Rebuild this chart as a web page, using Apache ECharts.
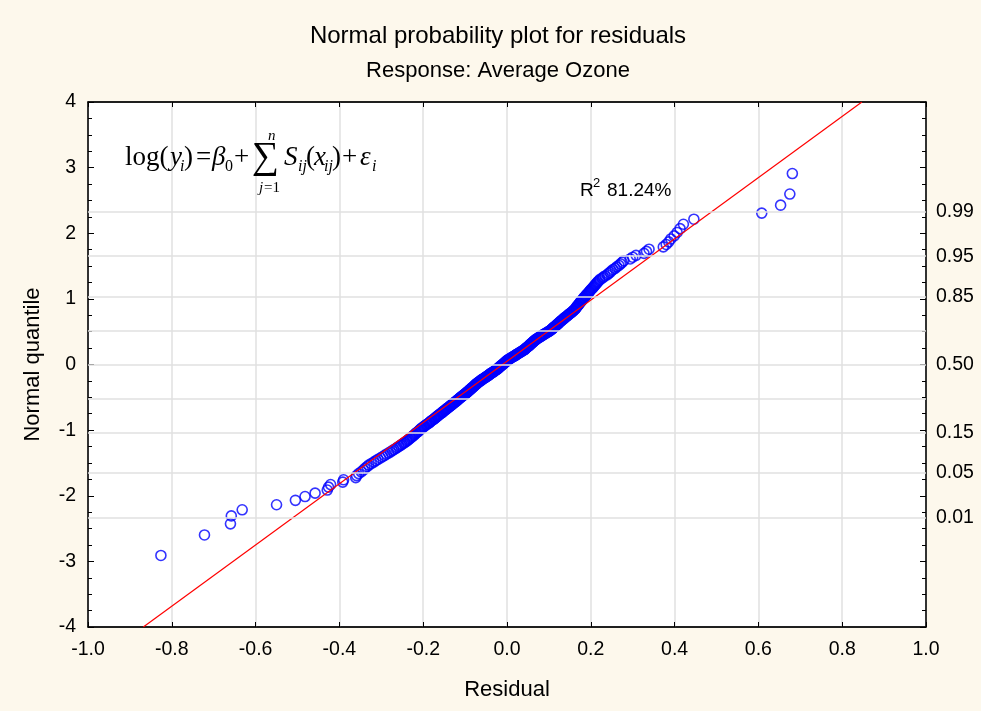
<!DOCTYPE html>
<html>
<head>
<meta charset="utf-8">
<script src="https://cdn.jsdelivr.net/npm/echarts@6/dist/echarts.min.js"></script>
<style>
  html, body { margin: 0; padding: 0; background: #fdf8ec; }
  #chart { width: 981px; height: 711px; }
</style>
</head>
<body>
<div id="chart"></div>
<script>
// Sorted model residuals (x) and their normal scores (y)
const residuals = [
  -0.826,-0.722,-0.660,-0.658,-0.632,-0.550,-0.505,-0.482,-0.458,-0.429,
  -0.426,-0.421,-0.392,-0.390,-0.361,-0.359,-0.354,-0.348,-0.343,-0.339,
  -0.334,-0.330,-0.324,-0.318,-0.313,-0.308,-0.302,-0.297,-0.292,-0.288,
  -0.283,-0.278,-0.274,-0.270,-0.265,-0.262,-0.258,-0.254,-0.251,-0.247,
  -0.244,-0.240,-0.238,-0.235,-0.232,-0.230,-0.227,-0.225,-0.222,-0.220,
  -0.218,-0.216,-0.213,-0.211,-0.209,-0.207,-0.205,-0.203,-0.200,-0.198,
  -0.196,-0.193,-0.191,-0.188,-0.186,-0.184,-0.182,-0.180,-0.178,-0.175,
  -0.173,-0.171,-0.170,-0.167,-0.166,-0.164,-0.162,-0.160,-0.158,-0.156,
  -0.154,-0.153,-0.151,-0.149,-0.147,-0.145,-0.144,-0.142,-0.140,-0.138,
  -0.136,-0.135,-0.133,-0.131,-0.130,-0.128,-0.127,-0.125,-0.123,-0.121,
  -0.120,-0.118,-0.117,-0.115,-0.114,-0.112,-0.111,-0.109,-0.108,-0.105,
  -0.104,-0.102,-0.101,-0.099,-0.098,-0.096,-0.095,-0.094,-0.092,-0.090,
  -0.089,-0.088,-0.086,-0.085,-0.084,-0.082,-0.081,-0.080,-0.078,-0.077,
  -0.076,-0.074,-0.073,-0.072,-0.070,-0.069,-0.068,-0.066,-0.064,-0.062,
  -0.061,-0.059,-0.057,-0.056,-0.054,-0.052,-0.051,-0.049,-0.047,-0.045,
  -0.044,-0.042,-0.041,-0.039,-0.037,-0.036,-0.034,-0.032,-0.031,-0.029,
  -0.027,-0.025,-0.024,-0.023,-0.021,-0.020,-0.019,-0.017,-0.016,-0.015,
  -0.013,-0.012,-0.011,-0.009,-0.008,-0.007,-0.005,-0.004,-0.003,-0.001,
   0.000, 0.001, 0.003, 0.005, 0.006, 0.008, 0.011, 0.012, 0.014, 0.016,
   0.018, 0.020, 0.022, 0.023, 0.025, 0.027, 0.029, 0.031, 0.033, 0.035,
   0.036, 0.038, 0.040, 0.042, 0.043, 0.044, 0.046, 0.047, 0.049, 0.050,
   0.051, 0.053, 0.054, 0.055, 0.056, 0.058, 0.059, 0.061, 0.062, 0.063,
   0.064, 0.066, 0.067, 0.069, 0.070, 0.072, 0.075, 0.077, 0.078, 0.081,
   0.082, 0.084, 0.086, 0.088, 0.090, 0.092, 0.095, 0.097, 0.099, 0.101,
   0.103, 0.105, 0.106, 0.108, 0.109, 0.110, 0.112, 0.114, 0.115, 0.117,
   0.118, 0.120, 0.121, 0.123, 0.124, 0.126, 0.127, 0.129, 0.131, 0.132,
   0.134, 0.136, 0.137, 0.139, 0.141, 0.143, 0.145, 0.146, 0.148, 0.150,
   0.152, 0.154, 0.156, 0.158, 0.159, 0.161, 0.163, 0.164, 0.165, 0.166,
   0.168, 0.169, 0.170, 0.172, 0.173, 0.174, 0.176, 0.177, 0.179, 0.180,
   0.182, 0.183, 0.185, 0.187, 0.188, 0.190, 0.192, 0.194, 0.196, 0.197,
   0.199, 0.201, 0.203, 0.205, 0.207, 0.209, 0.211, 0.213, 0.215, 0.217,
   0.220, 0.222, 0.227, 0.230, 0.234, 0.239, 0.242, 0.246, 0.249, 0.253,
   0.258, 0.262, 0.267, 0.271, 0.275, 0.279, 0.294, 0.300, 0.308, 0.327,
   0.333, 0.339, 0.373, 0.380, 0.386, 0.391, 0.399, 0.406, 0.413, 0.421,
   0.446, 0.608, 0.653, 0.675, 0.681
];

const normalQuantiles = [
  -2.910,-2.597,-2.428,-2.307,-2.214,-2.137,-2.070,-2.012,-1.960,-1.913,
  -1.869,-1.829,-1.792,-1.757,-1.724,-1.693,-1.663,-1.635,-1.608,-1.582,
  -1.557,-1.533,-1.510,-1.488,-1.466,-1.445,-1.425,-1.405,-1.386,-1.367,
  -1.349,-1.331,-1.314,-1.297,-1.280,-1.264,-1.248,-1.232,-1.217,-1.202,
  -1.187,-1.172,-1.158,-1.144,-1.130,-1.116,-1.103,-1.090,-1.077,-1.064,
  -1.051,-1.039,-1.026,-1.014,-1.002,-0.990,-0.978,-0.967,-0.955,-0.944,
  -0.933,-0.921,-0.910,-0.899,-0.888,-0.878,-0.867,-0.856,-0.846,-0.835,
  -0.825,-0.815,-0.805,-0.795,-0.785,-0.775,-0.766,-0.756,-0.747,-0.737,
  -0.728,-0.719,-0.709,-0.700,-0.691,-0.682,-0.673,-0.664,-0.655,-0.645,
  -0.636,-0.628,-0.619,-0.610,-0.602,-0.593,-0.585,-0.576,-0.568,-0.558,
  -0.550,-0.542,-0.534,-0.526,-0.518,-0.510,-0.502,-0.494,-0.486,-0.475,
  -0.467,-0.459,-0.452,-0.444,-0.436,-0.428,-0.420,-0.413,-0.405,-0.395,
  -0.387,-0.380,-0.372,-0.365,-0.357,-0.350,-0.342,-0.335,-0.327,-0.318,
  -0.311,-0.303,-0.296,-0.289,-0.281,-0.274,-0.267,-0.259,-0.252,-0.242,
  -0.235,-0.228,-0.220,-0.213,-0.206,-0.199,-0.192,-0.184,-0.177,-0.168,
  -0.161,-0.154,-0.147,-0.139,-0.132,-0.125,-0.118,-0.111,-0.104,-0.095,
  -0.087,-0.080,-0.073,-0.066,-0.058,-0.051,-0.044,-0.036,-0.029,-0.022,
  -0.015,-0.007, 0.000,
   0.007, 0.015, 0.022, 0.029, 0.036, 0.044, 0.051, 0.058, 0.066, 0.073,
   0.080, 0.087, 0.095, 0.104, 0.111, 0.118, 0.125, 0.132, 0.139, 0.147,
   0.154, 0.161, 0.168, 0.177, 0.184, 0.192, 0.199, 0.206, 0.213, 0.220,
   0.228, 0.235, 0.242, 0.252, 0.259, 0.267, 0.274, 0.281, 0.289, 0.296,
   0.303, 0.311, 0.318, 0.327, 0.335, 0.342, 0.350, 0.357, 0.365, 0.372,
   0.380, 0.387, 0.395, 0.405, 0.413, 0.420, 0.428, 0.436, 0.444, 0.452,
   0.459, 0.467, 0.475, 0.486, 0.494, 0.502, 0.510, 0.518, 0.526, 0.534,
   0.542, 0.550, 0.558, 0.568, 0.576, 0.585, 0.593, 0.602, 0.610, 0.619,
   0.628, 0.636, 0.645, 0.655, 0.664, 0.673, 0.682, 0.691, 0.700, 0.709,
   0.719, 0.728, 0.737, 0.747, 0.756, 0.766, 0.775, 0.785, 0.795, 0.805,
   0.815, 0.825, 0.835, 0.846, 0.856, 0.867, 0.878, 0.888, 0.899, 0.910,
   0.921, 0.933, 0.944, 0.955, 0.967, 0.978, 0.990, 1.002, 1.014, 1.026,
   1.039, 1.051, 1.064, 1.077, 1.090, 1.103, 1.116, 1.130, 1.144, 1.158,
   1.172, 1.187, 1.202, 1.217, 1.232, 1.248, 1.264, 1.280, 1.297, 1.314,
   1.331, 1.349, 1.367, 1.386, 1.405, 1.425, 1.445, 1.466, 1.488, 1.510,
   1.533, 1.557, 1.582, 1.608, 1.635, 1.663, 1.693, 1.724, 1.757, 1.792,
   1.829, 1.869, 1.913, 1.960, 2.012, 2.070, 2.137, 2.214, 2.307, 2.428,
   2.597, 2.910
];

// Reference line (normal fit) end points
const refLineX = [-0.868, 0.847];
const refLineY = [-4, 4];

// Probability scale on the right axis: label text and normal quantile position
const probLabels    = ['0.01', '0.05', '0.15', '0.30', '0.50', '0.70', '0.85', '0.95', '0.99'];
const probQuantiles = [-2.326, -1.645, -1.036, -0.524, 0, 0.524, 1.036, 1.645, 2.326];
const probLabelShown = [true, true, true, false, true, false, true, true, true];

const titleText = 'Normal probability plot for residuals';
const subtitleText = 'Response: Average Ozone';
const rSquaredValue = '81.24%';

const SANS = '"Liberation Sans", Arial, sans-serif';
const SERIF = '"Liberation Serif", "Times New Roman", serif';

const points = residuals.map((r, i) => [r, normalQuantiles[i]]);
const refLine = refLineX.map((x, i) => [x, refLineY[i]]);

function txt(x, y, text, font, align) {
  return {
    type: 'text', x: x, y: y, silent: true, z: 10,
    style: {
      text: text, font: font, fill: '#000',
      textAlign: align || 'left', align: align || 'left',
      textVerticalAlign: 'middle', verticalAlign: 'middle'
    }
  };
}

// Model equation pieces: [text, x, y, style, size]
const eqPieces = [
  ['log(', 125, 158, 'normal', 27],
  ['y',    170, 158, 'italic', 27],
  ['i',    180, 167, 'italic', 16],
  [')',    184, 158, 'normal', 27],
  ['=',    196, 158, 'normal', 27],
  ['\u03B2', 212, 158, 'italic', 27],
  ['0',    225, 167, 'normal', 16],
  ['+',    234, 158, 'normal', 27],
  ['\u2211', 252, 158, 'normal', 38],
  ['n',    268, 136, 'italic', 15],
  ['j',    259, 188, 'italic', 15],
  ['=1',   264, 188, 'normal', 15],
  ['S',    284, 158, 'italic', 27],
  ['ij',   298, 167, 'italic', 16],
  ['(',    306, 158, 'normal', 27],
  ['x',    314, 158, 'italic', 27],
  ['ij',   324, 167, 'italic', 16],
  [')',    332, 158, 'normal', 27],
  ['+',    342, 158, 'normal', 27],
  ['\u03B5', 360, 158, 'italic', 27],
  ['i',    372, 167, 'italic', 16]
];

const graphics = [
  txt(498, 36, titleText, '24px ' + SANS, 'center'),
  txt(498, 71, subtitleText, '22px ' + SANS, 'center'),
  txt(580, 191, 'R', '19px ' + SANS),
  txt(593, 183, '2', '13px ' + SANS),
  txt(607, 191, rSquaredValue, '19px ' + SANS)
].concat(eqPieces.map(p => txt(p[1], p[2], p[0], p[3] + ' ' + p[4] + 'px ' + SERIF)));

const axisLineStyle = { show: true, onZero: false, lineStyle: { color: '#000', width: 1.5 } };

const chart = echarts.init(document.getElementById('chart'), null, { renderer: 'canvas' });
chart.setOption({
  animation: false,
  backgroundColor: '#fdf8ec',
  grid: {
    left: 88, right: 55, top: 102, bottom: 84,
    show: true, backgroundColor: '#ffffff', borderColor: '#000', borderWidth: 1,
    containLabel: false, outerBoundsMode: 'none'
  },
  xAxis: [
    {
      type: 'value', min: -1, max: 1, interval: 0.2, position: 'bottom',
      axisLine: axisLineStyle,
      axisTick: { show: true, inside: true, length: 5, lineStyle: { color: '#000', width: 1 } },
      axisLabel: {
        color: '#000', fontSize: 19.5, fontFamily: SANS, margin: 13,
        formatter: v => (Math.abs(v) < 1e-9 ? 0 : v).toFixed(1)
      },
      splitLine: { show: true, lineStyle: { color: '#e0e0e0', width: 1.5 } },
      name: 'Residual', nameLocation: 'middle', nameGap: 52,
      nameTextStyle: { color: '#000', fontSize: 22, fontFamily: SANS }
    },
    {
      type: 'value', min: -1, max: 1, interval: 0.2, position: 'top',
      axisLine: axisLineStyle,
      axisTick: { show: true, inside: true, length: 5, lineStyle: { color: '#000', width: 1 } },
      axisLabel: { show: false },
      splitLine: { show: false }
    }
  ],
  yAxis: [
    {
      type: 'value', min: -4, max: 4, interval: 1, position: 'left',
      axisLine: axisLineStyle,
      axisTick: { show: true, inside: true, length: 6, lineStyle: { color: '#000', width: 1 } },
      minorTick: { show: true, splitNumber: 4, length: 4, lineStyle: { color: '#000', width: 1 } },
      axisLabel: { color: '#000', fontSize: 19.5, fontFamily: SANS, margin: 12 },
      splitLine: { show: false },
      minorSplitLine: { show: false },
      name: 'Normal quantile', nameLocation: 'middle', nameGap: 44,
      nameTextStyle: { color: '#000', fontSize: 22, fontFamily: SANS }
    },
    {
      type: 'value', min: -4, max: 4, interval: 1, position: 'right',
      axisLine: axisLineStyle,
      axisTick: { show: true, inside: true, length: 6, lineStyle: { color: '#000', width: 1 } },
      minorTick: { show: true, splitNumber: 4, length: 4, lineStyle: { color: '#000', width: 1 } },
      axisLabel: { show: false },
      splitLine: { show: false },
      minorSplitLine: { show: false }
    }
  ],
  graphic: graphics,
  series: [
    {
      // probability grid lines with their labels on the right
      type: 'line', xAxisIndex: 0, yAxisIndex: 0, data: [], silent: true, z: 1,
      markLine: {
        silent: true, animation: false, symbol: ['none', 'none'],
        lineStyle: { color: '#e0e0e0', width: 1.5, type: 'solid' },
        emphasis: { disabled: true },
        data: probQuantiles.map((q, i) => ({
          yAxis: q,
          label: {
            show: probLabelShown[i], position: 'end', distance: 10,
            formatter: probLabels[i], color: '#000', fontSize: 19.5, fontFamily: SANS
          }
        }))
      }
    },
    {
      type: 'scatter', xAxisIndex: 0, yAxisIndex: 0, data: points, silent: true, z: 3,
      symbol: 'circle', symbolSize: 10,
      itemStyle: { color: 'rgba(0,0,0,0)', borderColor: '#0000ff', borderWidth: 1.6 }
    },
    {
      type: 'line', xAxisIndex: 0, yAxisIndex: 0, data: refLine, silent: true, z: 4,
      symbol: 'none', showSymbol: false,
      lineStyle: { color: '#ff0000', width: 1.2 }
    }
  ]
});
</script>
</body>
</html>
